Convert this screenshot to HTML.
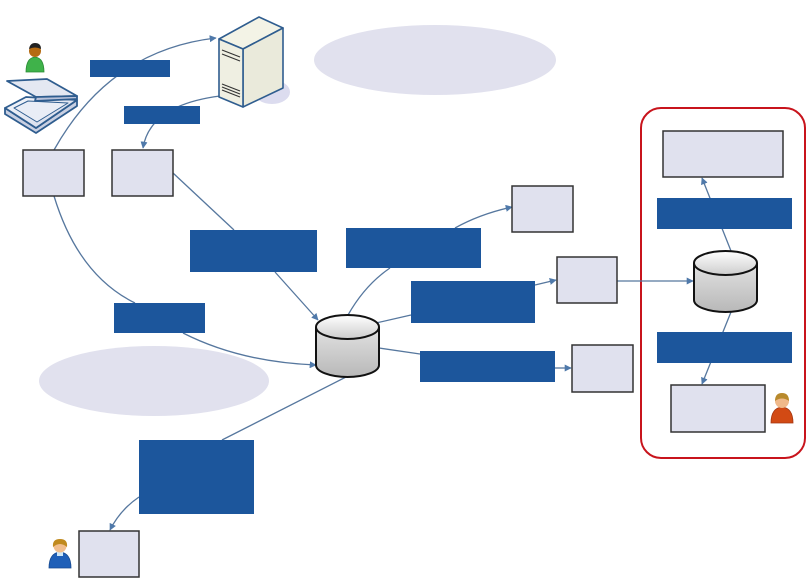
<!DOCTYPE html>
<html><head><meta charset="utf-8"><style>
html,body{margin:0;padding:0;background:#fff;}
svg{display:block;}
</style></head><body>
<svg width="809" height="579" viewBox="0 0 809 579" xmlns="http://www.w3.org/2000/svg">
<defs>
<marker id="ar" viewBox="0 0 10 10" refX="9" refY="5" markerWidth="7" markerHeight="7" orient="auto" markerUnits="userSpaceOnUse">
<path d="M0,0 L10,5 L0,10 z" fill="#4f79aa"/>
</marker>
<linearGradient id="cyl" x1="0" x2="0" y1="0" y2="1">
<stop offset="0" stop-color="#ffffff"/><stop offset="1" stop-color="#cdcdcd"/>
</linearGradient>
<linearGradient id="cylside" x1="0" x2="0" y1="0" y2="1">
<stop offset="0" stop-color="#e2e2e2"/><stop offset="1" stop-color="#b8b8b8"/>
</linearGradient>
<linearGradient id="scan" x1="0" x2="1" y1="0" y2="1">
<stop offset="0" stop-color="#f6f8fc"/><stop offset="1" stop-color="#cfd6e8"/>
</linearGradient>
</defs>

<!-- background ellipses -->
<ellipse cx="435" cy="60" rx="121" ry="35" fill="#e1e1ee"/>
<ellipse cx="154" cy="381" rx="115" ry="35" fill="#e1e1ee"/>

<!-- red rounded container -->
<rect x="641" y="108" width="164" height="350" rx="20" ry="20" fill="none" stroke="#c8141c" stroke-width="2"/>

<!-- connectors -->
<g fill="none" stroke="#56779e" stroke-width="1.3">
<path d="M54,150 Q110,50 216,38" marker-end="url(#ar)"/>
<path d="M220,96 Q150,105 143,148" marker-end="url(#ar)"/>
<path d="M54,196 Q78,275 135,303"/>
<path d="M183,333 Q240,362 316,365" marker-end="url(#ar)"/>
<path d="M173,173 L234,230"/>
<path d="M275,272 L318,320" marker-end="url(#ar)"/>
<path d="M348,315 Q365,285 390,268"/>
<path d="M455,228 Q480,214 512,207" marker-end="url(#ar)"/>
<path d="M376,323 L411,315"/>
<path d="M535,285 L556,280" marker-end="url(#ar)"/>
<path d="M379,348 L420,354"/>
<path d="M555,368 L571,368" marker-end="url(#ar)"/>
<path d="M346,377 L222,440"/>
<path d="M139,497 Q120,510 110,530" marker-end="url(#ar)"/>
<path d="M617,281 L693,281" marker-end="url(#ar)"/>
<path d="M731,251 L702,178" marker-end="url(#ar)"/>
<path d="M731,312 L702,384" marker-end="url(#ar)"/>
</g>

<!-- blue label rects -->
<g fill="#1c569c">
<rect x="90" y="60" width="80" height="17"/>
<rect x="124" y="106" width="76" height="18"/>
<rect x="190" y="230" width="127" height="42"/>
<rect x="114" y="303" width="91" height="30"/>
<rect x="346" y="228" width="135" height="40"/>
<rect x="411" y="281" width="124" height="42"/>
<rect x="420" y="351" width="135" height="31"/>
<rect x="139" y="440" width="115" height="74"/>
<rect x="657" y="198" width="135" height="31"/>
<rect x="657" y="332" width="135" height="31"/>
</g>

<!-- grey boxes -->
<g fill="#e0e1ee" stroke="#333" stroke-width="1.5">
<rect x="23" y="150" width="61" height="46"/>
<rect x="112" y="150" width="61" height="46"/>
<rect x="512" y="186" width="61" height="46"/>
<rect x="557" y="257" width="60" height="46"/>
<rect x="572" y="345" width="61" height="47"/>
<rect x="79" y="531" width="60" height="46"/>
<rect x="663" y="131" width="120" height="46"/>
<rect x="671" y="385" width="94" height="47"/>
</g>

<!-- cylinders -->
<g stroke="#111" stroke-width="2">
<path d="M316,327 L316,365 A31.5,12 0 0 0 379,365 L379,327" fill="url(#cylside)"/>
<ellipse cx="347.5" cy="327" rx="31.5" ry="12" fill="url(#cyl)"/>
<path d="M694,263 L694,300 A31.5,12 0 0 0 757,300 L757,263" fill="url(#cylside)"/>
<ellipse cx="725.5" cy="263" rx="31.5" ry="12" fill="url(#cyl)"/>
</g>

<!-- server -->
<ellipse cx="272" cy="92" rx="18" ry="12" fill="#dcdcef"/>
<g stroke="#2f5d8f" stroke-width="1.6" stroke-linejoin="round">
<polygon points="219,39 243,49 283,28 259,17" fill="#f3f3e6"/>
<polygon points="243,49 283,28 283,88 243,107" fill="#eaeadb"/>
<polygon points="219,39 243,49 243,107 219,97" fill="#efefe2"/>
</g>
<g stroke="#333" stroke-width="1.2">
<line x1="222" y1="50" x2="240" y2="57"/>
<line x1="222" y1="54" x2="240" y2="61"/>
<line x1="222" y1="84" x2="240" y2="91"/>
<line x1="222" y1="87" x2="240" y2="94"/>
<line x1="222" y1="90" x2="240" y2="97"/>
</g>

<!-- scanner -->
<g stroke="#2f5d8f" stroke-width="1.8" stroke-linejoin="round">
<!-- base thickness -->
<polygon points="5,108 36,128 77,100 77,106 36,133 5,114" fill="#c9d0e2"/>
<!-- base top -->
<polygon points="5,108 26,97 77,100 36,128" fill="url(#scan)"/>
<polygon points="14,108 28,101 68,103 37,122" fill="#e9edf6" stroke-width="1"/>
<!-- lid -->
<polygon points="7,81 47,79 77,96 36,97" fill="#e4e8f2"/>
<polygon points="36,97 77,96 77,99 35,101" fill="#b9c2da"/>
</g>

<!-- persons -->
<g>
<path d="M26,72 Q26,58 35,57 Q44,58 44,72 Z" fill="#3fb24a" stroke="#2a8a34" stroke-width="0.8"/>
<circle cx="35" cy="51" r="6" fill="#b56a12"/>
<path d="M29,49 Q30,43 35,43 Q41,43 41,49 Q35,46 29,49 Z" fill="#222"/>
</g>
<g>
<path d="M771,423 Q771,408 782,407 Q793,408 793,423 Z" fill="#d24a14" stroke="#a33510" stroke-width="0.8"/>
<circle cx="782" cy="401" r="7" fill="#f0b98a"/>
<path d="M775,401 Q775,393 782,393 Q789,393 789,401 Q782,396 775,401 Z" fill="#b88a2c"/>
</g>
<g>
<path d="M49,568 Q49,553 60,552 Q71,553 71,568 Z" fill="#1f5fb8" stroke="#174a90" stroke-width="0.8"/>
<rect x="57" y="551" width="6" height="5" fill="#cfe6f5"/>
<circle cx="60" cy="546" r="6.5" fill="#f1be8e"/>
<path d="M53,547 Q52,539 60,539 Q68,539 67,547 Q60,541 53,547 Z" fill="#c08a1e"/>
</g>
</svg>
</body></html>
